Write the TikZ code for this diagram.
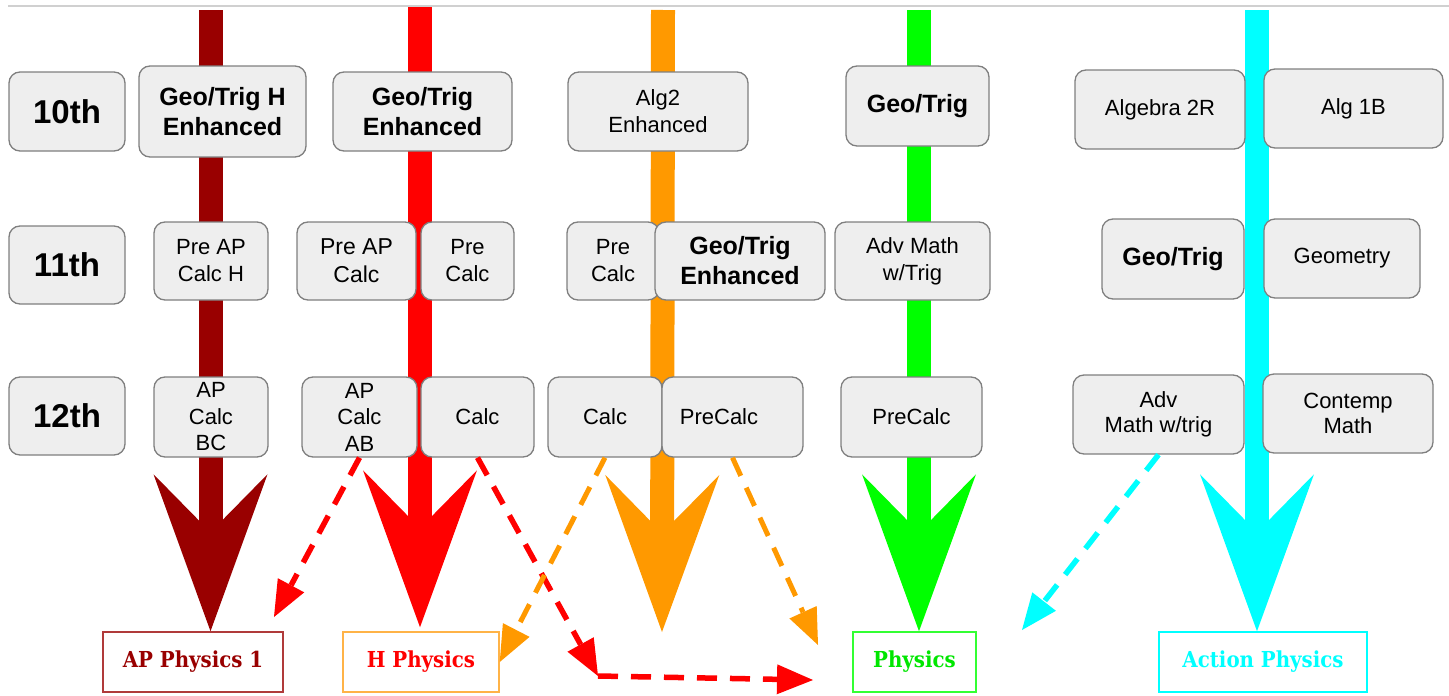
\documentclass[tikz,border=0pt]{standalone}
\usepackage{fontspec}
\setmainfont{Liberation Sans}
\newfontfamily\slabfont{DejaVu Serif Condensed}
\usetikzlibrary{arrows.meta}
\pgfdeclarelayer{tracks}
\pgfsetlayers{tracks,main}

\definecolor{cDarkRed}{HTML}{990000}
\definecolor{cRed}{HTML}{FF0000}
\definecolor{cOrange}{HTML}{FF9900}
\definecolor{cGreen}{HTML}{00FF00}
\definecolor{cCyan}{HTML}{00FFFF}
\definecolor{boxfill}{HTML}{EEEEEE}
\definecolor{boxline}{HTML}{7F7F7F}
\definecolor{rule}{HTML}{D0D0D0}
\definecolor{apframe}{HTML}{B03A3A}
\definecolor{hframe}{HTML}{FFB347}
\definecolor{gframe}{HTML}{33FF33}
\definecolor{gtext}{HTML}{00E600}

\tikzset{
  course/.style={draw=boxline, fill=boxfill, line width=1.3pt, rounded corners=11pt,
    align=center, inner sep=0pt, text=black, font=\fontsize{22}{27}\selectfont},
  bold course/.style={course, font=\fontsize{25}{30}\selectfont\bfseries},
  grade/.style={course, font=\fontsize{33}{40}\selectfont\bfseries},
  physbox/.style={draw=#1, line width=1.5pt, fill=white, inner sep=0pt,
    minimum height=60pt, font=\slabfont\bfseries\fontsize{22}{27}\selectfont},
  track/.style={draw=#1, line width=24pt,
    -{Stealth[length=157pt, width=114pt, inset=58pt, line width=0pt]}},
  alt/.style={draw=#1, line width=5.5pt, dash pattern=on 20pt off 13pt,
    -{Triangle[length=36pt, width=30pt, line width=0pt]}},
}

\begin{document}
\begin{tikzpicture}[x=1pt, y=-1pt]
\useasboundingbox (0,0) rectangle (1449,696);

% thin rule along the top edge
\draw[rule, line width=2pt] (8,6) -- (1449,6);

% grade labels
\node[grade, minimum width=116pt, minimum height=79pt] (g10) at (67,111.5) {10th};
\node[grade, minimum width=116pt, minimum height=78pt] (g11) at (67,265) {11th};
\node[grade, minimum width=116pt, minimum height=78pt] (g12) at (67,416) {12th};

% AP track
\node[bold course, minimum width=167pt, minimum height=91pt] (geoH) at (222.5,111.5) {Geo/Trig H\\Enhanced};
\node[course, minimum width=114pt, minimum height=78pt] (preAPH) at (211,261) {Pre AP\\Calc H};
\node[course, minimum width=114pt, minimum height=80pt, font=\fontsize{22}{26.5}\selectfont] (apbc) at (211,417) {AP\\Calc\\BC};

% honors track
\node[bold course, minimum width=179pt, minimum height=79pt] (geoE2) at (422.5,111.5) {Geo/Trig\\Enhanced};
\node[course, minimum width=119pt, minimum height=78pt, font=\fontsize{23}{28}\selectfont] (preAP) at (356.5,261) {Pre AP\\Calc};
\node[course, minimum width=93pt, minimum height=78pt] (preCalc2) at (467.5,261) {Pre\\Calc};
\node[course, minimum width=115pt, minimum height=80pt, font=\fontsize{22}{26.5}\selectfont] (apab) at (359.5,417) {AP\\Calc\\AB};
\node[course, minimum width=113pt, minimum height=80pt] (calc2) at (477.5,417) {Calc};

% enhanced algebra track
\node[course, minimum width=180pt, minimum height=79pt] (alg2e) at (658,111.5) {Alg2\\Enhanced};
\node[course, minimum width=92pt, minimum height=78pt] (preCalc3) at (613,261) {Pre\\Calc};
\node[bold course, minimum width=170pt, minimum height=78pt] (geoE3) at (740,261) {Geo/Trig\\Enhanced};
\node[course, minimum width=114pt, minimum height=80pt] (calc3) at (605,417) {Calc};
\node[course, minimum width=141pt, minimum height=80pt] (precalc3) at (732.5,417) {PreCalc\hspace*{27pt}};

% standard track
\node[bold course, minimum width=143pt, minimum height=80pt] (geoT4) at (917.5,106) {Geo/Trig};
\node[course, minimum width=155pt, minimum height=78pt] (adv4) at (912.5,261) {Adv Math\\w/Trig};
\node[course, minimum width=141pt, minimum height=80pt] (precalc4) at (911.5,417) {PreCalc};

% action track
\node[course, minimum width=170pt, minimum height=79pt] (alg2r) at (1160,109.5) {Algebra 2R};
\node[course, minimum width=179pt, minimum height=79pt] (alg1b) at (1353.5,108.5) {Alg 1B};
\node[bold course, minimum width=142pt, minimum height=80pt] (geoT5) at (1173,259) {Geo/Trig};
\node[course, minimum width=156pt, minimum height=79pt] (geom) at (1342,258.5) {Geometry};
\node[course, minimum width=171pt, minimum height=79pt, font=\fontsize{22}{25}\selectfont] (advTrig) at (1158.5,414.5) {Adv\\Math w/trig};
\node[course, minimum width=170pt, minimum height=79pt, font=\fontsize{22}{25}\selectfont] (contemp) at (1348,413.5) {Contemp\\Math};

% physics courses
\node[physbox=apframe, text=cDarkRed, minimum width=180pt] (ap1) at (193,662) {AP Physics 1};
\node[physbox=hframe, text=cRed, minimum width=156pt] (hphys) at (421,662) {H Physics};
\node[physbox=gframe, text=gtext, minimum width=123pt] (phys) at (914.5,662) {Physics};
\node[physbox=cCyan, text=cCyan, minimum width=208pt] (action) at (1263,662) {Action Physics};

% track tops and free ends
\coordinate (t1) at (210.5,10);
\coordinate (t2) at (420,6);
\coordinate (t3) at (663,10);
\coordinate (t4) at (919,10);
\coordinate (t5) at (1257,10);
\coordinate (t3end) at (662,632);
\coordinate (abEnd) at (274,617);
\coordinate (elbow) at (598,676);
\coordinate (elbowEnd) at (813,680);
\coordinate (pcEnd) at (818,645);
\coordinate (cyEnd) at (1022,630);

% main tracks behind the course boxes
\begin{pgfonlayer}{tracks}
\draw[track=cDarkRed] (t1) -- (t1 |- ap1.north);
\draw[track=cRed] (t2) -- ([yshift=4pt]t2 |- hphys.north);
\draw[track=cOrange] (t3) -- (t3end);
\draw[track=cGreen] (t4) -- (t4 |- phys.north);
\draw[track=cCyan] (t5) -- (t5 |- action.north);
\end{pgfonlayer}

% alternative routes
\draw[alt=cRed] (apab.south) -- (abEnd);
\draw[alt=cRed] (calc2.south) -- (elbow);
\draw[alt=cRed] (elbow) -- (elbowEnd);
\draw[alt=cOrange, line width=5pt] (calc3.south) -- (hphys.east);
\draw[alt=cOrange, line width=5pt] (precalc3.south) -- (pcEnd);
\draw[alt=cCyan] (advTrig.south) -- (cyEnd);
\end{tikzpicture}
\end{document}
